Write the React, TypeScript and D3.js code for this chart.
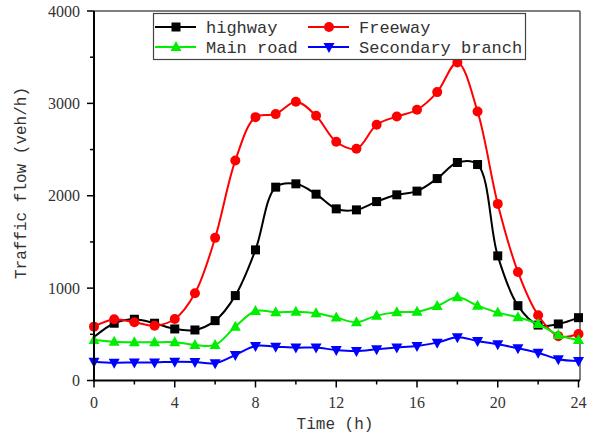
import React from "react";
import * as d3 from "d3";

const hours = d3.range(0, 25);
const highway = [470, 620, 663, 620, 558, 547, 648, 919, 1414, 2093, 2129, 2017, 1858, 1847, 1937, 2010, 2050, 2186, 2360, 2338, 1349, 810, 600, 612, 680];
const freeway = [583, 663, 630, 594, 666, 945, 1544, 2381, 2851, 2884, 3017, 2866, 2584, 2508, 2768, 2858, 2931, 3122, 3443, 2912, 1912, 1175, 706, 480, 504];
const mainRoad = [439, 420, 414, 414, 414, 385, 385, 583, 753, 739, 745, 728, 681, 630, 702, 739, 745, 807, 901, 810, 735, 685, 612, 493, 439];
const secondary = [204, 193, 195, 195, 204, 200, 186, 276, 374, 366, 356, 356, 330, 320, 338, 356, 374, 410, 468, 428, 392, 349, 301, 230, 211];

const xTicks = [0, 4, 8, 12, 16, 20, 24];
const yTicks = [0, 1000, 2000, 3000, 4000];

const seriesNames = ["highway", "Freeway", "Main road", "Secondary branch"];
const seriesColors = ["#000000", "#ff0000", "#00ee00", "#0000ff"];
const seriesMarkers = ["square", "circle", "triangle", "triangleDown"];

const W = 589, H = 435;
const M = { left: 94, right: 580, top: 11, bottom: 380.5 };

function Marker({ type, x, y, color }: { type: string; x: number; y: number; color: string }) {
  if (type === "square") return <rect x={x - 4.5} y={y - 4.5} width={9} height={9} fill={color} />;
  if (type === "circle") return <circle cx={x} cy={y} r={5} fill={color} />;
  if (type === "triangle")
    return <path d={`M${x},${y - 6} L${x + 5.5},${y + 4} L${x - 5.5},${y + 4} Z`} fill={color} />;
  return <path d={`M${x},${y + 6} L${x + 5.5},${y - 4} L${x - 5.5},${y - 4} Z`} fill={color} />;
}

export default function App() {
  const x = d3.scaleLinear().domain([0, 24]).range([M.left, M.right - 1.5]);
  const y = d3.scaleLinear().domain([0, 4000]).range([M.bottom, M.top]);
  const data = [highway, freeway, mainRoad, secondary];
  const line = d3
    .line<number>()
    .x((_, i) => x(hours[i]))
    .y((d) => y(d))
    .curve(d3.curveCatmullRom.alpha(0.5));

  const minorX = d3.range(2, 24, 4);
  const minorY = [500, 1500, 2500, 3500];
  const mono = "'Liberation Mono', 'DejaVu Sans Mono', monospace";
  const serif = "'Liberation Serif', 'DejaVu Serif', serif";

  const legendItems = [
    { i: 0, lx: 155, ty: 27 },
    { i: 1, lx: 308, ty: 27 },
    { i: 2, lx: 155, ty: 47 },
    { i: 3, lx: 308, ty: 47 },
  ];

  return (
    <svg width={W} height={H} style={{ position: "absolute", left: 0, top: 0 }}>
      <rect x={0} y={0} width={W} height={H} fill="#fff" />
      {/* frame */}
      <line x1={M.left} x2={M.right} y1={M.top} y2={M.top} stroke="#555" strokeWidth={1.5} />
      <line x1={M.right} x2={M.right} y1={M.top} y2={M.bottom} stroke="#555" strokeWidth={1.5} />
      {/* series */}
      {data.map((vals, si) => (
        <g key={si}>
          <path d={line(vals) || ""} fill="none" stroke={seriesColors[si]} strokeWidth={2} />
          {vals.map((v, i) =>
            si === 0 && i === 0 ? null : (
              <Marker key={i} type={seriesMarkers[si]} x={x(hours[i])} y={y(v)} color={seriesColors[si]} />
            )
          )}
        </g>
      ))}
      {/* axes */}
      <line x1={M.left} x2={M.left} y1={M.top} y2={M.bottom + 1} stroke="#000" strokeWidth={2} />
      <line x1={M.left - 1} x2={M.right} y1={M.bottom} y2={M.bottom} stroke="#000" strokeWidth={2} />
      {yTicks.map((t) => (
        <g key={t}>
          <line x1={M.left - 7} x2={M.left} y1={y(t)} y2={y(t)} stroke="#000" strokeWidth={1.5} />
          <text x={80} y={y(t)} dy="0.35em" textAnchor="end" fontFamily={serif} fontSize={16} fill="#333">
            {t}
          </text>
        </g>
      ))}
      {minorY.map((t) => (
        <line key={t} x1={M.left - 4} x2={M.left} y1={y(t)} y2={y(t)} stroke="#000" strokeWidth={1.5} />
      ))}
      {xTicks.map((t) => (
        <g key={t}>
          <line x1={x(t)} x2={x(t)} y1={M.bottom} y2={M.bottom + 7} stroke="#000" strokeWidth={1.5} />
          <text x={x(t)} y={402} dy="0.35em" textAnchor="middle" fontFamily={serif} fontSize={16} fill="#333">
            {t}
          </text>
        </g>
      ))}
      {minorX.map((t) => (
        <line key={t} x1={x(t)} x2={x(t)} y1={M.bottom} y2={M.bottom + 4} stroke="#000" strokeWidth={1.5} />
      ))}
      {/* axis titles */}
      <text x={335} y={423} dy="0.35em" textAnchor="middle" fontFamily={mono} fontSize={16} fill="#333">
        Time (h)
      </text>
      <text
        transform={`translate(20,183) rotate(-90)`}
        dy="0.35em"
        textAnchor="middle"
        fontFamily={mono}
        fontSize={16}
        fill="#333"
      >
        Traffic flow (veh/h)
      </text>
      {/* legend */}
      <rect x={153.5} y={13.5} width={372} height={46} fill="#fff" stroke="#444" strokeWidth={1.2} />
      {legendItems.map(({ i, lx, ty }) => (
        <g key={i}>
          <line x1={lx} x2={lx + 41} y1={ty} y2={ty} stroke={seriesColors[i]} strokeWidth={2} />
          <Marker type={seriesMarkers[i]} x={lx + 21} y={ty} color={seriesColors[i]} />
          <text x={lx + 51} y={ty} dy="0.35em" fontFamily={mono} fontSize={17} fill="#333">
            {seriesNames[i]}
          </text>
        </g>
      ))}
    </svg>
  );
}
